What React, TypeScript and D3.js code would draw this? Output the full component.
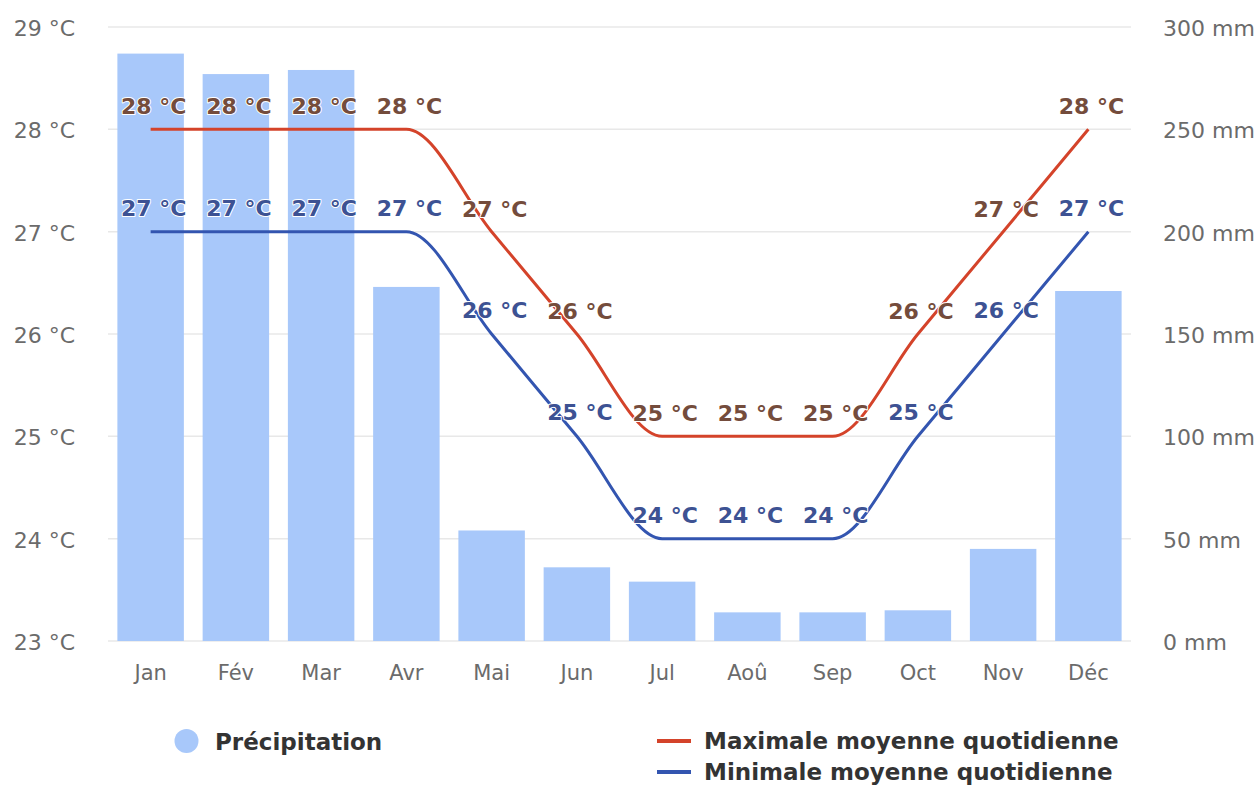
import React from "react";
import * as d3 from "d3";

const months = ["Jan", "Fév", "Mar", "Avr", "Mai", "Jun", "Jul", "Aoû", "Sep", "Oct", "Nov", "Déc"];
const precipitation = [287, 277, 279, 173, 54, 36, 29, 14, 14, 15, 45, 171];
const tempMax = [28, 28, 28, 28, 27, 26, 25, 25, 25, 26, 27, 28];
const tempMin = [27, 27, 27, 27, 26, 25, 24, 24, 24, 25, 26, 27];
const tempTicks = [23, 24, 25, 26, 27, 28, 29];
const precipTicks = [0, 50, 100, 150, 200, 250, 300];

const W = 1259;
const H = 787;
const FONT = "'DejaVu Sans', Verdana, sans-serif";
const RED = "#d4432a";
const BLUE = "#3355b0";
const BAR = "#a8c8fa";

export default function App() {
  const left = 108, right = 1131, top = 27, bottom = 641;
  const x = d3.scaleBand<string>().domain(months).range([left, right]).paddingInner(0.22).paddingOuter(0.11);
  const yT = d3.scaleLinear().domain([23, 29]).range([bottom, top]);
  const yP = d3.scaleLinear().domain([0, 300]).range([bottom, top]);
  const cx = (m: string) => (x(m) as number) + x.bandwidth() / 2;
  const line = d3
    .line<number>()
    .x((_, i) => cx(months[i]))
    .y((d) => yT(d))
    .curve(d3.curveMonotoneX);

  const labelStyle = (fill: string): React.CSSProperties => ({
    fill,
    fontFamily: FONT,
    fontWeight: "bold",
    fontSize: 22,
    stroke: "#fff",
    strokeWidth: 2,
    paintOrder: "stroke",
    strokeLinejoin: "round",
  });

  return (
    <svg width={W} height={H} style={{ position: "absolute", left: 0, top: 0, background: "#fff" }}>
      <rect x={0} y={0} width={W} height={H} fill="#fff" />
      {tempTicks.map((t) => (
        <line key={"g" + t} x1={left} x2={right} y1={yT(t)} y2={yT(t)} stroke="#e8e8e8" strokeWidth={1.5} />
      ))}
      {tempTicks.map((t) => (
        <text key={"lt" + t} x={75} y={yT(t) + 9} textAnchor="end" fontFamily={FONT} fontSize={22} fill="#6b6b6b">
          {t} °C
        </text>
      ))}
      {precipTicks.map((p) => (
        <text key={"rt" + p} x={1163} y={yP(p) + 9} textAnchor="start" fontFamily={FONT} fontSize={22} fill="#6b6b6b">
          {p} mm
        </text>
      ))}
      {months.map((m, i) => (
        <rect key={"b" + m} x={x(m)} y={yP(precipitation[i])} width={x.bandwidth()} height={bottom - yP(precipitation[i])} fill={BAR} />
      ))}
      {months.map((m) => (
        <text key={"m" + m} x={cx(m)} y={680} textAnchor="middle" fontFamily={FONT} fontSize={21} fill="#6b6b6b">
          {m}
        </text>
      ))}
      <path d={line(tempMax) || ""} fill="none" stroke={RED} strokeWidth={3} />
      <path d={line(tempMin) || ""} fill="none" stroke={BLUE} strokeWidth={3} />
      {months.map((m, i) => (
        <text key={"lx" + m} x={cx(m) + 3} y={yT(tempMax[i]) - 15} textAnchor="middle" style={labelStyle("#744c3c")}>
          {tempMax[i]} °C
        </text>
      ))}
      {months.map((m, i) => (
        <text key={"ln" + m} x={cx(m) + 3} y={yT(tempMin[i]) - 16} textAnchor="middle" style={labelStyle("#3d5293")}>
          {tempMin[i]} °C
        </text>
      ))}
      <circle cx={186.5} cy={741} r={12} fill={BAR} />
      <text x={215} y={750} fontFamily={FONT} fontWeight="bold" fontSize={23} fill="#333">
        Précipitation
      </text>
      <line x1={657} x2={691} y1={741} y2={741} stroke={RED} strokeWidth={4} />
      <text x={704} y={749} fontFamily={FONT} fontWeight="bold" fontSize={23} fill="#333">
        Maximale moyenne quotidienne
      </text>
      <line x1={657} x2={691} y1={772} y2={772} stroke={BLUE} strokeWidth={4} />
      <text x={704} y={780} fontFamily={FONT} fontWeight="bold" fontSize={23} fill="#333">
        Minimale moyenne quotidienne
      </text>
    </svg>
  );
}
